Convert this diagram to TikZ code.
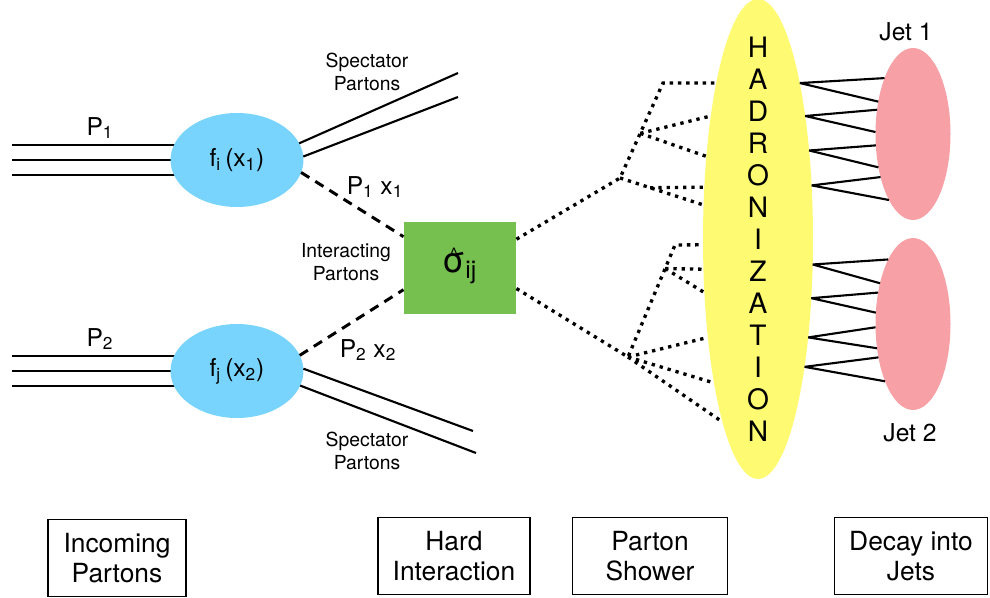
\documentclass[tikz,border=0pt]{standalone}
\usepackage{fontspec}
\setmainfont{TeX Gyre Heros}
\usetikzlibrary{shapes.geometric,backgrounds,calc}

\definecolor{pdfblau}{RGB}{120,212,252}
\definecolor{gruen}{RGB}{118,192,80}
\definecolor{gelb}{RGB}{254,250,114}
\definecolor{jetrot}{RGB}{247,161,166}

% sigma mit Dach
\newcommand{\sighat}{\ooalign{σ\cr\hidewidth\raisebox{7pt}{\fontsize{10}{10}\selectfont\^{}}\hidewidth\cr}}

\begin{document}
\begin{tikzpicture}[x=0.02cm, y=-0.02cm,
    linie/.style={line width=1.2pt},
    gestrichelt/.style={line width=1.7pt, dash pattern=on 5.5pt off 4pt},
    gepunktet/.style={line width=1.9pt, dash pattern=on 1.9pt off 2.8pt},
    pdf/.style={ellipse, fill=pdfblau, inner sep=0pt, outer sep=0pt,
        minimum width=2.66cm, minimum height=1.88cm, font=\fontsize{14}{16}\selectfont},
    jet/.style={ellipse, fill=jetrot, inner sep=0pt, outer sep=0pt,
        minimum width=1.5cm, minimum height=3.44cm},
    stufe/.style={draw, line width=0.9pt, inner sep=0pt, minimum height=1.54cm,
        align=center, font=\fontsize{15}{17}\selectfont},
    klein/.style={align=center, font=\fontsize{11}{13}\selectfont},
    gross/.style={font=\fontsize{14}{16}\selectfont}]
    \useasboundingbox (0,0) rectangle (990,598);

    % Einlaufende Partonen
    \node[pdf] (pdf1) at (237,160) {f\textsubscript{i}\,(x\textsubscript{1})};
    \node[pdf] (pdf2) at (237,371) {f\textsubscript{j}\,(x\textsubscript{2})};
    \coordinate (p1) at (12,160);
    \coordinate (p2) at (12,371);
    \begin{scope}[on background layer]
        \foreach \d in {-15,0,15} {
            \draw[linie] ($(p1)+(0,\d)$) -- ($(pdf1.center)+(0,\d)$);
            \draw[linie] ($(p2)+(0,\d)$) -- ($(pdf2.center)+(0,\d)$);
        }
    \end{scope}
    \node[gross, anchor=base] (lp1) at (100,135) {P\textsubscript{1}};
    \node[gross, anchor=base] (lp2) at (100,346) {P\textsubscript{2}};

    % Zuschauer-Partonen
    \coordinate (s1a) at (458,73);
    \coordinate (s1b) at (458,97);
    \coordinate (s2a) at (473,431);
    \coordinate (s2b) at (476,453);
    \draw[linie] (pdf1.15) -- (s1a) (pdf1.3) -- (s1b);
    \draw[linie] (pdf2.2) -- (s2a) (pdf2.347) -- (s2b);
    \node[klein] (lsp1) at (367,72) {Spectator\\Partons};
    \node[klein] (lsp2) at (367,451) {Spectator\\Partons};

    % Harte Wechselwirkung
    \node[fill=gruen, inner sep=0pt, outer sep=0pt, minimum width=2.26cm, minimum height=1.86cm,
        font=\fontsize{20}{20}\selectfont] (sig) at (460,268) {\sighat\textsubscript{ij}};
    \draw[gestrichelt] (pdf1.349) -- (sig.151);
    \draw[gestrichelt] (pdf2.14) -- (sig.201);
    \node[gross, anchor=base] (lpx1) at (375,194) {P\textsubscript{1} x\textsubscript{1}};
    \node[gross, anchor=base] (lpx2) at (368,357) {P\textsubscript{2} x\textsubscript{2}};
    \node[klein] (lint) at (346,262) {Interacting\\Partons};

    % Hadronisierung
    \node[ellipse, fill=gelb, inner sep=0pt, outer sep=0pt,
        minimum width=2.2cm, minimum height=9.6cm] (had) at (758,239) {};
    \node[align=center, font=\fontsize{16}{18.2}\selectfont] (hadtxt) at (had.center)
        {H\\A\\D\\R\\O\\N\\I\\Z\\A\\T\\I\\O\\N};

    % Partonschauer oben
    \coordinate (v1) at (620,178);
    \coordinate (v1o) at (663,83);
    \coordinate (v1m) at ($(v1)!0.47!(v1o)$);
    \coordinate (v1u) at ($(v1)!0.36!(had.148)$);
    \draw[gepunktet] (sig.27) -- (v1) -- (v1o) -- (had.105);
    \draw[gepunktet] (v1m) -- (had.111) (v1m) -- (had.122);
    \draw[gepunktet] (v1) -- (had.148) (v1u) -- (had.136);

    % Partonschauer unten
    \coordinate (v2) at (628,357);
    \coordinate (v2o) at (675,245);
    \coordinate (v2m) at ($(v2)!0.79!(v2o)$);
    \draw[gepunktet] (sig.340) -- (v2) -- (v2o) -- (had.186);
    \draw[gepunktet] (v2m) -- (had.209) (v2m) -- (had.225);
    \draw[gepunktet] (v2) -- (had.243) (v2) -- (had.253) (v2) -- (had.259);

    % Jets
    \node[jet] (jet1) at (913,134) {};
    \node[jet] (jet2) at (913,324) {};
    \node[gross, anchor=base] (ljet1) at (906,41) {Jet 1};
    \node[gross, anchor=base] (ljet2) at (910,441) {Jet 2};
    \foreach \h/\a/\b in {75/117/137, 69/146/177, 60/197/224, 45/233/250}
        \draw[linie] (had.\h) -- (jet1.\a) (had.\h) -- (jet1.\b);
    \foreach \h/\a/\b in {335/111/129, 312/138/163, 297/185/214, 290/224/244}
        \draw[linie] (had.\h) -- (jet2.\a) (had.\h) -- (jet2.\b);

    % Stufen
    \node[stufe, minimum width=2.76cm] (st1) at (117,558) {Incoming\\Partons};
    \node[stufe, minimum width=3.04cm] (st2) at (454,556) {Hard\\Interaction};
    \node[stufe, minimum width=3.1cm] (st3) at (650,556) {Parton\\Shower};
    \node[stufe, minimum width=3.06cm] (st4) at (911,556) {Decay into\\Jets};
\end{tikzpicture}
\end{document}
